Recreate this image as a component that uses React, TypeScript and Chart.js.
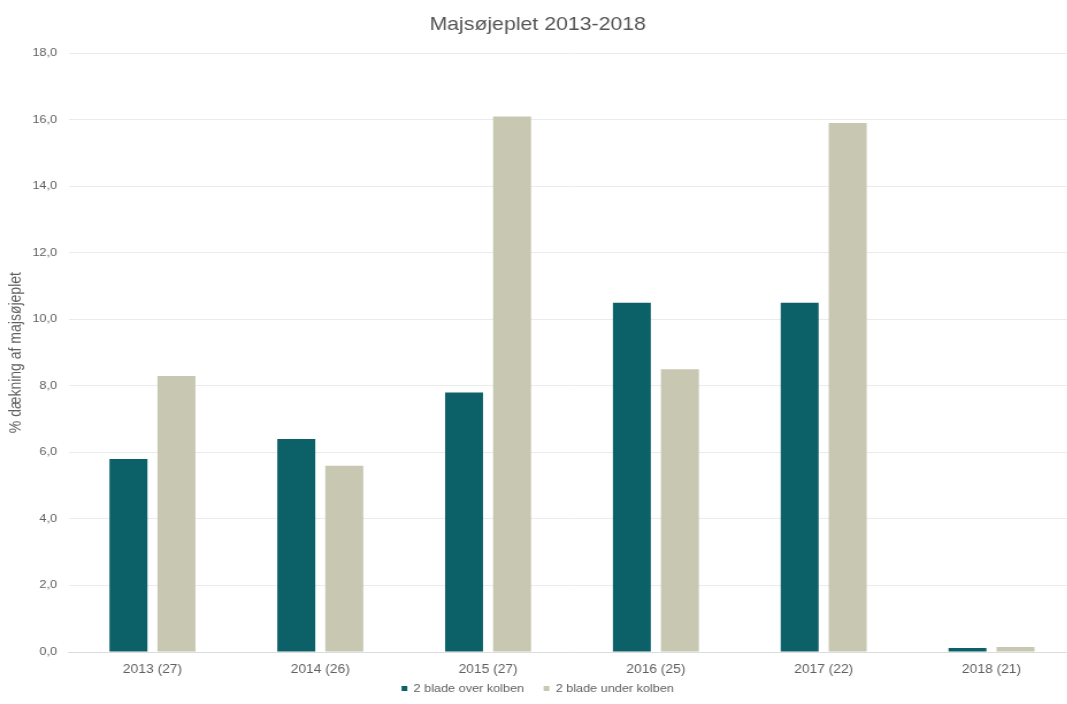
import React, { useEffect, useRef } from "react";
import { Chart, registerables } from "chart.js";

Chart.register(...registerables);

const categories = ["2013 (27)", "2014 (26)", "2015 (27)", "2016 (25)", "2017 (22)", "2018 (21)"];
const overKolben = [5.8, 6.4, 7.8, 10.5, 10.5, 0.12];
const underKolben = [8.3, 5.6, 16.1, 8.5, 15.9, 0.15];
const seriesNames = ["2 blade over kolben", "2 blade under kolben"];
const yTicks = [0, 2, 4, 6, 8, 10, 12, 14, 16, 18];

const FONT = "'Liberation Sans', Arial, sans-serif";
const TEXT = "#5f5f5f";

// The drawing surface is rendered narrower and displayed wider,
// giving the slightly wide lettering of the chart.
const RENDER_W = 939;
const DISPLAY_W = 1080;
const H = 704;
const LEGEND_TOP = 666;

// Pull the legend up close under the category labels while keeping
// wide spacing between its items.
const legendPlacement = {
  id: "legendPlacement",
  afterLayout(chart: any) {
    const lg = chart.legend;
    if (!lg) return;
    const h = lg.bottom - lg.top;
    lg.top = LEGEND_TOP;
    lg.bottom = LEGEND_TOP + h;
  },
};

export default function App() {
  const canvasRef = useRef<HTMLCanvasElement | null>(null);

  useEffect(() => {
    document.body.style.margin = "0";
    document.body.style.overflow = "hidden";
    const ctx = canvasRef.current;
    if (!ctx) return;
    const chart = new Chart(ctx, {
      type: "bar",
      data: {
        labels: categories,
        datasets: [
          {
            label: seriesNames[0],
            data: overKolben,
            backgroundColor: "#0c6169",
            categoryPercentage: 0.5725,
            barPercentage: 0.79,
          },
          {
            label: seriesNames[1],
            data: underKolben,
            backgroundColor: "#c8c7b2",
            categoryPercentage: 0.5725,
            barPercentage: 0.79,
          },
        ],
      },
      plugins: [legendPlacement],
      options: {
        responsive: false,
        animation: false,
        layout: { padding: { left: 0, right: 4, top: 0, bottom: -10 } },
        plugins: {
          title: {
            display: true,
            text: "Majsøjeplet 2013-2018",
            color: "#555555",
            font: { family: FONT, size: 18.5, weight: "normal", lineHeight: 1.2 },
            padding: { top: 14, bottom: 17 },
          },
          legend: {
            position: "bottom",
            labels: {
              color: TEXT,
              font: { family: FONT, size: 11 },
              usePointStyle: true,
              pointStyle: "rect",
              boxWidth: 5,
              boxHeight: 5,
              padding: 17,
            },
          },
          tooltip: { enabled: false },
        },
        scales: {
          x: {
            afterFit: (axis: any) => {
              axis.height = 24;
            },
            grid: { display: false, drawTicks: false },
            border: { display: true, color: "#dcdcdc" },
            ticks: {
              color: TEXT,
              font: { family: FONT, size: 12, lineHeight: 1 },
              padding: 12,
            },
          },
          y: {
            min: yTicks[0],
            max: yTicks[yTicks.length - 1],
            afterBuildTicks: (axis: any) => {
              axis.ticks = yTicks.map((v) => ({ value: v }));
            },
            afterFit: (axis: any) => {
              axis.width = 59.6;
            },
            grid: { color: "#ebebeb", drawTicks: false },
            border: { display: false },
            ticks: {
              color: TEXT,
              font: { family: FONT, size: 11 },
              padding: 10,
              callback: (v: any) => Number(v).toFixed(1).replace(".", ","),
            },
            title: {
              display: true,
              text: "% dækning af majsøjeplet",
              color: TEXT,
              font: { family: FONT, size: 14 },
              padding: { top: 6, bottom: 0 },
            },
          },
        },
      },
    });
    return () => chart.destroy();
  }, []);

  return (
    <div style={{ position: "absolute", left: 0, top: 0, width: 1067, height: H, overflow: "hidden", background: "#fff" }}>
      <canvas
        ref={canvasRef}
        width={RENDER_W}
        height={H}
        style={{ display: "block", width: DISPLAY_W + "px", height: H + "px" }}
      />
    </div>
  );
}
